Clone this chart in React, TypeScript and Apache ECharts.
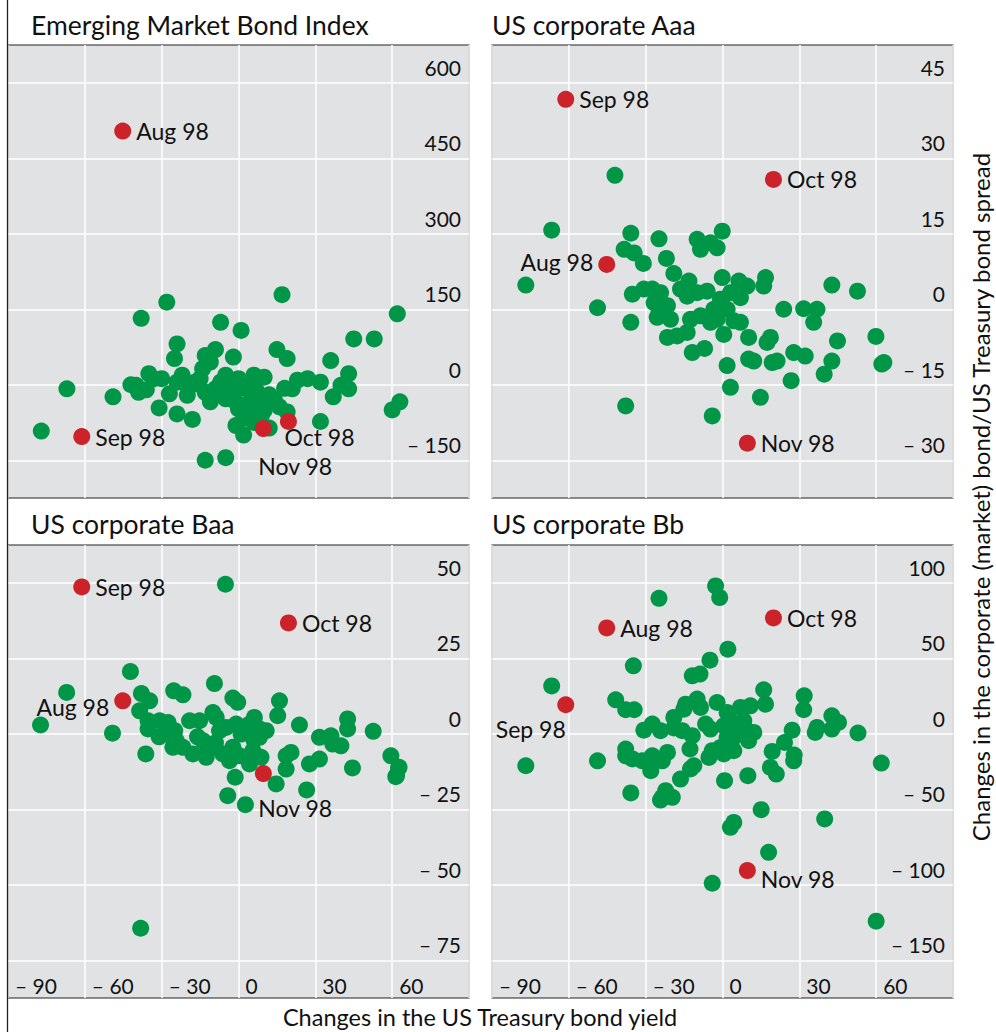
import React, { useEffect, useRef } from 'react';
import * as echarts from 'echarts';

const FONT = 'Lato, "Noto Sans", sans-serif';
const GREEN = '#009648';
const RED = '#cc2229';
const BG = '#e1e2e4';

const panelTitles = ['Emerging Market Bond Index', 'US corporate Aaa', 'US corporate Baa', 'US corporate Bb'];
const redNames = ['Aug 98', 'Sep 98', 'Oct 98', 'Nov 98'];

const xTicks = [-90, -60, -30, 0, 30, 60];

const embiTicks = [-150, 0, 150, 300, 450, 600];
const aaaTicks = [-30, -15, 0, 15, 30, 45];
const baaTicks = [-75, -50, -25, 0, 25, 50];
const bbTicks = [-150, -100, -50, 0, 50, 100];

const embiRed = [[-45.2, 504], [-61.2, -103], [19.5, -73], [9.7, -87]];
const aaaRed = [[-45.2, 8.9], [-61.2, 41.7], [19.9, 25.8], [9.7, -26.6]];
const baaRed = [[-45.2, 10.9], [-61.2, 48.6], [19.5, 36.7], [9.7, -13.2]];
const bbRed = [[-45.2, 70.1], [-61.2, 19.2], [19.9, 76.7], [9.7, -90.6]];

const embiGreen = [
  [-77, -92], [-67, -8], [-49, -24], [-42, 0], [-38, 132], [-28, 164], [-39, -15], [-35, 22], [-31, -46], [-24, -58],
  [-18, -69], [-24, 81], [-25, 52], [-7, 124], [1, 108], [-2, 55], [-9, 70], [-13, 58], [-14, 32], [-11, 45],
  [17, 179], [15, 70], [19, 52], [36, 48], [45, 91], [53, 91], [62, 141], [63, -34], [60, -50], [43, 22],
  [40, -1], [43, -8], [37, -24], [32, -73], [32, 5], [27, 12], [23, 9], [21, -8], [18, -7], [16, -44],
  [19, -54], [12, -86], [10, 15], [-1, -81], [2, -100], [-13, -150], [-5, -145], [-30, 12], [-27, -18], [-22, 19],
  [-20, -1], [-20, -21], [-15, 12], [-13, -15], [-11, -34], [-7, 5], [-5, 19], [-2, -21], [-5, -28], [0, 12],
  [3, -8], [6, -21], [8, -34], [10, -51], [0, -48], [4, -54], [2, -67], [6, 19], [-33, 12], [-40, -1],
  [-36, -10], [-17, 5], [-9, -8], [-3, 0], [5, -2], [7, -12], [12, -20], [14, -30], [-1, -35], [3, -40],
  [-8, -18], [-24, 5], [9, -60], [6, -75], [-18, 0],
];

const aaaGreen = [
  [-42, 26.6], [-66.7, 15.7], [-76.8, 4.8], [-48.8, 0.3], [-35.8, -2.6], [-37.8, -19.2], [-35.8, 15.1], [-38.4, 11.9],
  [-34.5, 11.2], [-30.9, 9.1], [-24.8, 14], [-21.9, 10.1], [-19, 7.1], [-9.9, 13.9], [-8.6, 11.9], [-4.7, 13.2],
  [-2.1, 12.2], [-0.1, 15.5], [-35.2, 3], [-30.7, 4], [-27.4, 4], [-24.2, 3.3], [-26.7, 1.3], [-24.8, 0],
  [-21.5, 0.7], [-25.5, -1.6], [-20.3, -2], [-13.1, 5.6], [-16.4, 4], [-13.8, 2.6], [-9.9, 3.3], [-6, 3.6],
  [-12.5, -2], [-8.6, -1.3], [-4.7, -2.6], [-13.8, -4.6], [-17.7, -5.3], [-21.5, -5.6], [-11.8, -8.6], [-7, -7.8],
  [-0.1, 6.3], [6.4, 5.6], [9.6, 4.6], [3.1, 3.3], [7, 2.3], [-0.8, 2], [-3.4, 0], [1.8, 0],
  [-2.1, -2], [4.4, -2.3], [7, -2.6], [0.5, -5], [10.2, -5.6], [16.8, 6.3], [16.1, 4.6], [18.7, -5.6],
  [17.4, -6.6], [1.8, -11.2], [3.1, -15.5], [10.2, -9.9], [12.2, -10.3], [14.8, -17.5], [-4, -21.2], [19.4, -10.6],
  [21.3, -10.3], [23.9, 0], [31.7, 0.1], [36.9, 0], [35.6, -2.6], [27.8, -8.6], [32.3, -9.3], [26.8, -14.2],
  [42.7, 4.8], [52.7, 3.6], [44.9, -6.3], [42.7, -10.3], [39.7, -12.9], [59.9, -5.4], [62.2, -10.9], [63, -10.6],
];

const baaGreen = [
  [-5.1, 49.5], [-42.2, 20.6], [-67.1, 13.7], [-77.3, 2.9], [-49.2, 0.2], [-38.2, -64.4], [-4.2, -20.5], [2.7, -23.5],
  [-1.3, -14.4], [14.7, -16.6], [26.6, -18.6], [44.5, -11.3], [61.7, -13.9], [62.5, -11.3], [-36.2, -6.7], [-37.9, 13.3],
  [-34.7, 10.9], [-38.6, 7.6], [-35.3, 4.3], [-35.3, 1.6], [-30.8, 4.3], [-27.5, 3.7], [-28.2, -0.1], [-24.9, 1],
  [-24.3, -2.3], [-25.6, -4.5], [-21.7, -4.5], [-19.1, 4.3], [-25.3, 14.2], [-21.7, 12.9], [-9.4, 16.6], [-2.2, 11.8],
  [-0.3, 10.4], [-17.8, -6.7], [-13.9, -2.3], [-12, -5.6], [-12.6, -7.8], [-15.2, 4.3], [-10, 7], [-8.7, 5.4],
  [-7.4, 1], [-6.1, -6.7], [-3.5, -8.9], [-2.2, -4.5], [0.4, -7.3], [4.3, -10], [5.6, -5.6], [-4.8, 2.1],
  [-0.9, 3.2], [1, -0.1], [4.3, 3.2], [6.2, 5.4], [8.2, 1.6], [10.8, 1], [8.2, -1.2], [16, 10.9],
  [15.3, 6], [23.8, 2.9], [8.8, -7.8], [18.6, -11.7], [20.5, -6.2], [18.6, -7.3], [27.7, -10], [31.6, -8.4],
  [31.6, -1.2], [36.1, -0.7], [36.8, -3.4], [40, -4], [42.6, 4.9], [42.6, 1.6], [52.6, 0.8], [59.5, -7.3],
  [62.7, -11.1], [61.4, -14.2], [-31, -1], [-16, -1], [2, 1], [6, -2], [-9, -3],
];

const bbGreen = [
  [-2.7, 97.9], [-1.1, 90.2], [-24.8, 89.7], [2.1, 56], [-4.9, 48.7], [-34.8, 45], [-11.8, 38.4], [-8.8, 39.5],
  [-66.7, 31.7], [16.1, 29.1], [16.8, 19.6], [31.9, 25.1], [31.7, 15.9], [-41.7, 22.5], [-37.8, 15.9], [-34.5, 15.9],
  [-76.8, -21.2], [-48.8, -17.9], [-30.7, 2.4], [-27.4, 6.4], [-24.2, 2], [-19, 10.8], [-19, 3.8], [-15.1, 16.3],
  [-15.7, 2], [-11.8, -1.3], [-14.4, 19.6], [-9.9, 23], [-8.6, 17.4], [-37.8, -10.1], [-37.8, -14.6], [-35.2, -16.7],
  [-31.3, -17.9], [-27.4, -14.6], [-28, -24.5], [-23.5, -17.9], [-21.5, -12.4], [-35.8, -39.2], [-23.5, -42.1], [-19.6, -42.1],
  [-16.4, -30], [-12.5, -23.3], [-11.2, -21.2], [-12.7, -10.1], [-6.6, 6.4], [-4.7, 3.1], [-5.3, -15.7], [-4, -11.2],
  [-0.8, -9.1], [0.5, -13.4], [4.4, -11.2], [-2.1, 20.7], [1.8, 14.1], [3.1, 8.6], [0.5, 5.3], [4.4, 4.2],
  [7, 17.4], [10.9, 18.5], [8.3, 8.6], [9.6, 2], [12.2, 0.9], [10.2, -4.6], [1.8, -2.4], [4.4, -2.4],
  [0.8, -31.1], [9.9, -27.8], [19.4, -11.7], [18.7, -22.3], [21, -26.7], [24.2, -5.8], [27.2, 2.4], [28, -14.1],
  [36.2, 0.9], [36.9, 4.2], [42.7, 11.9], [45.3, 7.5], [42.7, 3.1], [52.9, 0.5], [62, -19.4], [15.1, -50.3],
  [4.4, -58.7], [3.1, -62], [39.9, -56.4], [18, -78.5], [-24.2, -43.9], [-22.2, -37.7], [27.8, -17.9], [-4, -99],
  [60, -124.1],
];

// label placement styles for the red points (Aug, Sep, Oct, Nov)
const R = { position: 'right' };
const embiLabelPos = [R, R, { position: 'right', offset: [-17.5, 16] }, { position: 'right', offset: [-18.5, 37] }];
const aaaLabelPos = [{ position: 'left', offset: [0, -2] }, R, R, R];
const baaLabelPos = [{ position: 'left', offset: [0, 6] }, R, R, { position: 'right', offset: [-18.5, 34] }];
const bbLabelPos = [R, { position: 'left', offset: [13.5, 24] }, R, { position: 'right', offset: [0, 8] }];

const panels = [
  { green: embiGreen, red: embiRed, ticks: embiTicks, min: -225, max: 675, labelPos: embiLabelPos },
  { green: aaaGreen, red: aaaRed, ticks: aaaTicks, min: -37.5, max: 52.5, labelPos: aaaLabelPos },
  { green: baaGreen, red: baaRed, ticks: baaTicks, min: -87.5, max: 62.5, labelPos: baaLabelPos },
  { green: bbGreen, red: bbRed, ticks: bbTicks, min: -175, max: 125, labelPos: bbLabelPos },
];

const gridBoxes = [
  { left: 8, top: 45 },
  { left: 492, top: 45 },
  { left: 8, top: 545 },
  { left: 492, top: 545 },
];
const titlePos = [
  { x: 31, y: 25 },
  { x: 492, y: 25 },
  { x: 31, y: 524 },
  { x: 492, y: 524 },
];

const fmt = (v: number) => (v < 0 ? '\u2013 ' + Math.abs(v) : String(v));

export default function App() {
  const ref = useRef<HTMLDivElement>(null);
  useEffect(() => {
    if (!ref.current) return;
    const chart = echarts.init(ref.current, undefined, { renderer: 'svg' });
    const grid = gridBoxes.map((g) => ({
      left: g.left,
      top: g.top,
      width: 461,
      height: 453,
      show: true,
      backgroundColor: BG,
      borderColor: '#222',
      borderWidth: 1.2,
    }));
    const xAxis = panels.map((_, i) => ({
      type: 'value',
      gridIndex: i,
      min: -90,
      max: 90,
      interval: 30,
      axisLine: { show: false },
      axisTick: { show: false },
      splitLine: { show: true, lineStyle: { color: '#ffffff', width: 1.5 } },
      axisLabel: {
        show: i >= 2,
        inside: true,
        showMinLabel: true,
        showMaxLabel: true,
        customValues: xTicks,
        formatter: fmt,
        align: 'left',
        verticalAlign: 'bottom',
        padding: [0, 0, 0, 7],
        margin: 2,
        color: '#111',
        fontFamily: FONT,
        fontSize: 21,
      },
    }));
    const yAxis = panels.map((p, i) => ({
      type: 'value',
      gridIndex: i,
      position: 'right',
      min: p.min,
      max: p.max,
      axisLine: { show: false },
      axisTick: { show: false, customValues: p.ticks },
      splitLine: { show: true, lineStyle: { color: '#ffffff', width: 1.5 } },
      axisLabel: {
        inside: true,
        customValues: p.ticks,
        formatter: fmt,
        align: 'right',
        verticalAlign: 'bottom',
        padding: [0, 0, 5, 0],
        margin: 8,
        color: '#111',
        fontFamily: FONT,
        fontSize: 21,
      },
    }));
    const series: any[] = [];
    panels.forEach((p, i) => {
      series.push({
        type: 'scatter',
        xAxisIndex: i,
        yAxisIndex: i,
        data: p.green,
        symbolSize: 17,
        itemStyle: { color: GREEN, opacity: 1 },
        z: 2,
      });
      series.push({
        type: 'scatter',
        xAxisIndex: i,
        yAxisIndex: i,
        symbolSize: 17,
        itemStyle: { color: RED, opacity: 1 },
        z: 3,
        label: {
          show: true,
          distance: 5,
          color: '#111',
          fontFamily: FONT,
          fontSize: 23,
          formatter: (d: any) => d.name,
        },
        data: p.red.map((v, k) => ({
          name: redNames[k],
          value: v,
          label: { ...(p.labelPos[k] as any) },
        })),
      });
    });
    const graphic: any[] = [
      {
        type: 'line',
        shape: { x1: 7.5, y1: 0, x2: 7.5, y2: 1032 },
        style: { stroke: '#222', lineWidth: 1.3 },
        z: 10,
      },
      ...panelTitles.map((t, i) => ({
        type: 'text',
        x: titlePos[i].x,
        y: titlePos[i].y,
        style: {
          text: t,
          fontFamily: FONT,
          fontSize: 26.5,
          fill: '#111',
          verticalAlign: 'middle',
        },
      })),
      {
        type: 'text',
        x: 480,
        y: 1017,
        style: {
          text: 'Changes in the US Treasury bond yield',
          fontFamily: FONT,
          fontSize: 23.5,
          fill: '#111',
          align: 'center',
          verticalAlign: 'middle',
        },
      },
      {
        type: 'text',
        x: 980,
        y: 497,
        rotation: Math.PI / 2,
        style: {
          text: 'Changes in the corporate (market) bond/US Treasury bond spread',
          fontFamily: FONT,
          fontSize: 24,
          fill: '#111',
          align: 'center',
          verticalAlign: 'middle',
        },
      },
    ];
    chart.setOption({
      animation: false,
      backgroundColor: '#ffffff',
      grid,
      xAxis,
      yAxis,
      series,
      graphic,
    });
    return () => chart.dispose();
  }, []);
  return (
    <div
      ref={ref}
      style={{ position: 'absolute', left: 0, top: 0, width: 996, height: 1032 }}
    />
  );
}
